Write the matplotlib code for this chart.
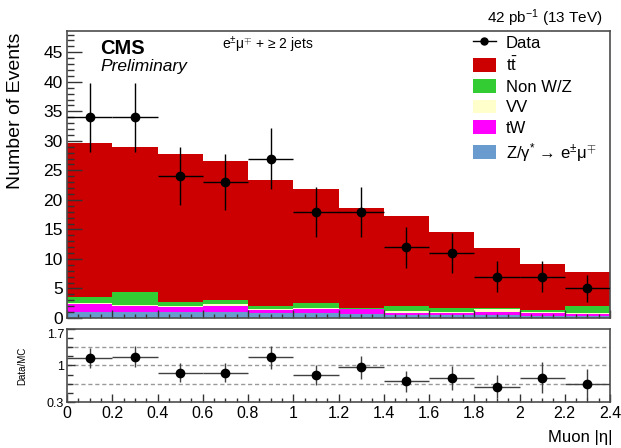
import numpy as np
import matplotlib
matplotlib.use("Agg")
import matplotlib.pyplot as plt
from matplotlib.lines import Line2D
from matplotlib.patches import Patch
from matplotlib.ticker import MultipleLocator, FixedLocator

plt.rcParams['font.family'] = ['Liberation Sans', 'DejaVu Sans']
plt.rcParams['mathtext.fontset'] = 'custom'
plt.rcParams['mathtext.rm'] = 'Liberation Sans'
plt.rcParams['mathtext.it'] = 'Liberation Sans:italic'
plt.rcParams['mathtext.bf'] = 'Liberation Sans:bold'

# muon |eta| binning
edges = np.round(np.arange(0, 2.41, 0.2), 2)
centers = 0.5 * (edges[:-1] + edges[1:])

# observed events per bin
data = [34, 34, 24, 23, 27, 18, 18, 12, 11, 7, 7, 5]

# stacked backgrounds, listed bottom to top
zgamma = [1.0, 1.0, 1.0, 1.0, 0.8, 0.8, 0.7, 0.5, 0.5, 0.5, 0.4, 0.4]
tw = [1.3, 1.0, 0.85, 1.1, 0.6, 0.75, 0.75, 0.3, 0.3, 0.5, 0.4, 0.3]
vv = [0.2, 0.15, 0.15, 0.2, 0.15, 0.15, 0.05, 0.4, 0.3, 0.45, 0.2, 0.2]
nonwz = [1.1, 2.25, 0.7, 0.8, 0.55, 0.9, 0.2, 0.8, 0.55, 0.2, 0.4, 1.1]
ttbar = [26.1, 24.6, 25.1, 23.5, 21.2, 19.3, 17.0, 15.3, 12.9, 10.15, 7.7, 5.8]

stack = [
    (zgamma, '#6a9bcf', r'Z/γ$^{*}$ → e$^{\pm}$μ$^{\mp}$'),
    (tw, '#ff00ff', 'tW'),
    (vv, '#ffffcc', 'VV'),
    (nonwz, '#33cc33', 'Non W/Z'),
    (ttbar, '#cc0000', r't$\bar{\mathrm{t}}$'),
]

W, H = 621, 448
fig = plt.figure(figsize=(W / 100, H / 100), dpi=100)
ax = fig.add_axes([67 / W, (H - 318) / H, 543 / W, 287 / H])
rax = fig.add_axes([67 / W, (H - 402) / H, 543 / W, 73 / H])

frame_col = '0.3'

# stacked histogram
base = np.zeros(len(data))
for vals, col, lab in stack:
    top = base + np.array(vals)
    ax.stairs(top, edges, baseline=base, fill=True, color=col, lw=0)
    base = top
total = base

data = np.array(data, dtype=float)
err = np.sqrt(data)
ax.errorbar(centers, data, xerr=0.1, yerr=err, fmt='o', color='k',
            ms=6, elinewidth=1, capsize=0, zorder=5)

ax.set_xlim(0, 2.4)
ax.set_ylim(0, 48.6)
ax.yaxis.set_major_locator(MultipleLocator(5))
ax.yaxis.set_minor_locator(MultipleLocator(1))
ax.xaxis.set_major_locator(MultipleLocator(0.2))
ax.xaxis.set_minor_locator(MultipleLocator(0.05))
ax.tick_params(axis='y', which='major', direction='in', length=10.5,
               width=1, labelsize=12.5, pad=3, color='0.2')
ax.tick_params(axis='y', which='minor', direction='in', length=5,
               width=1, color='0.2')
ax.tick_params(axis='x', which='major', direction='in', length=6,
               width=1, labelbottom=False, color='0.2')
ax.tick_params(axis='x', which='minor', direction='in', length=3,
               width=1, color='0.2')
for s in ax.spines.values():
    s.set_color(frame_col)
    s.set_linewidth(1.2)

fig.text(16 / W, 1 - 33 / H, 'Number of Events', rotation=90,
         ha='center', va='top', fontsize=14)

ax.text(100 / W, 1 - 48 / H, 'CMS', transform=fig.transFigure,
        fontsize=14.5, fontweight='bold', va='center', ha='left')
ax.text(100 / W, 1 - 67 / H, 'Preliminary', transform=fig.transFigure,
        fontsize=12.5, style='italic', va='center', ha='left')
ax.text(222 / W, 1 - 45 / H, r'e$^{\pm}$μ$^{\mp}$ + ≥ 2 jets',
        transform=fig.transFigure, fontsize=10, va='center', ha='left')
fig.text(603 / W, 1 - 18 / H, r'42 pb$^{-1}$ (13 TeV)', fontsize=11,
         ha='right', va='center')

handles = [Line2D([], [], color='k', marker='o', ms=5, lw=1)]
labels = ['Data']
for vals, col, lab in reversed(stack):
    handles.append(Patch(facecolor=col, edgecolor='none'))
    labels.append(lab)
ax.legend(handles, labels, loc='upper left',
          bbox_to_anchor=((473 - 67) / 543, (318 - 35) / 287),
          frameon=False, fontsize=12, borderpad=0, borderaxespad=0,
          labelspacing=0.3, handlelength=1.35, handleheight=0.9,
          handletextpad=0.6)

# ratio panel
ratio = data / total
rerr = err / total
for g in (0.65, 1.0, 1.35):
    rax.axhline(g, color='0.6', lw=1, ls=(0, (3, 2)), zorder=1)
rax.errorbar(centers, ratio, xerr=0.1, yerr=rerr, fmt='o', color='k',
             ms=6, elinewidth=1, ecolor='0.25', capsize=0, zorder=5)
rax.set_xlim(0, 2.4)
rax.set_ylim(0.3, 1.7)
rax.yaxis.set_major_locator(FixedLocator([0.3, 1.0, 1.7]))
rax.yaxis.set_minor_locator(FixedLocator(0.3 + 0.175 * np.arange(9)))
rax.set_yticklabels(['0.3', '1', '1.7'])
rax.get_yticklabels()[2].set_va('top')
rax.xaxis.set_major_locator(MultipleLocator(0.2))
rax.xaxis.set_minor_locator(MultipleLocator(0.05))
rax.xaxis.set_major_formatter(plt.FuncFormatter(lambda v, p: f'{v:g}'))
rax.tick_params(axis='y', which='major', direction='in', length=6,
                width=1, labelsize=9, pad=2, color='0.2')
rax.tick_params(axis='y', which='minor', direction='in', length=4,
                width=1, color='0.2')
rax.tick_params(axis='x', which='major', direction='in', length=6,
                width=1, labelsize=11.5, pad=3, color='0.2')
rax.tick_params(axis='x', which='minor', direction='in', length=3,
                width=1, color='0.2')
for s in rax.spines.values():
    s.set_color(frame_col)
    s.set_linewidth(1.2)

fig.text(22 / W, 1 - 366 / H, 'Data/MC', rotation=90, ha='center',
         va='center', fontsize=7)
fig.text(612 / W, 1 - 437 / H, 'Muon |η|', ha='right', va='center',
         fontsize=12)

fig.savefig('out.png', dpi=100)
